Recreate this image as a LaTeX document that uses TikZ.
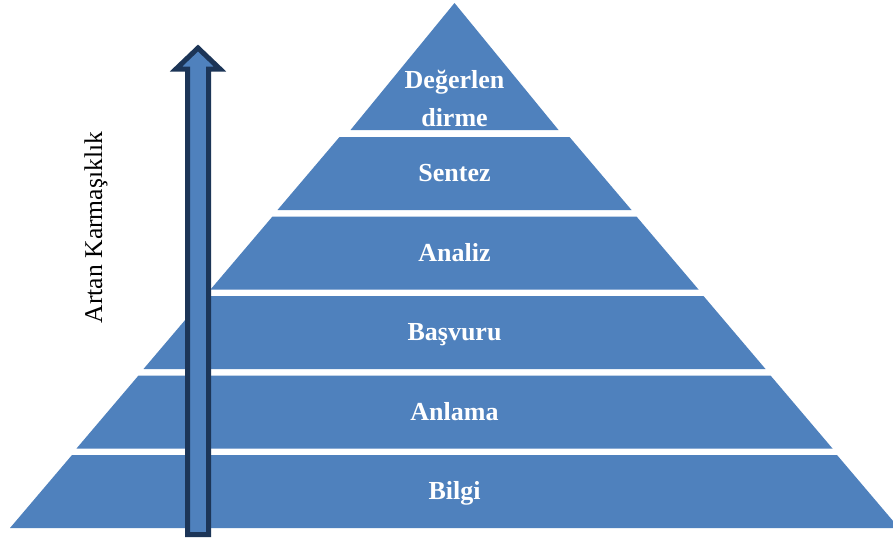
\documentclass[tikz,border=0pt]{standalone}
\usepackage{fontspec}
\setmainfont{Liberation Serif}
\definecolor{layerblue}{RGB}{79,129,189}
\definecolor{arrowedge}{RGB}{28,53,87}
\begin{document}
\begin{tikzpicture}[x=1pt,y=-1pt,
  layer/.style={fill=layerblue,draw=none},
  lbl/.style={text=white,font=\fontsize{26}{30}\selectfont\bfseries,anchor=base,inner sep=0pt},
  bigarrow/.style={fill=layerblue,draw=arrowedge,line width=5pt,line join=miter}]
\useasboundingbox[fill=white] (0,0) rectangle (893,541);
\def\cx{454.5}
% top triangle
\fill[layer] (\cx,3) -- (\cx+104,130) -- (\cx-104,130) -- cycle;
% trapezoid layers: top y, bottom y, top half-width, bottom half-width
\foreach \t/\b/\ht/\hb in {137/210/115/177, 216.5/289.5/182/244, 296/369/249/311,
                           375.5/448.5/316/378, 455/528/382.5/444.5}{
  \fill[layer] (\cx-\ht,\t) -- (\cx+\ht,\t) -- (\cx+\hb,\b) -- (\cx-\hb,\b) -- cycle;
}
% layer labels
\node[lbl] (t6a) at (\cx,88.3) {Değerlen};
\node[lbl] (t6b) at (\cx,126) {dirme};
\node[lbl] (t5) at (\cx,181.5) {Sentez};
\node[lbl] (t4) at (\cx,261) {Analiz};
\node[lbl] (t3) at (\cx,340.5) {Başvuru};
\node[lbl] (t2) at (\cx,420) {Anlama};
\node[lbl] (t1) at (\cx,499.5) {Bilgi};
% upward arrow
\draw[bigarrow] (187.5,534.5) -- (187.5,69) -- (176,69) -- (198,48) -- (220,69)
  -- (208.5,69) -- (208.5,534.5) -- cycle;
% axis caption
\node[rotate=90,anchor=base,inner sep=0pt,font=\fontsize{25.6}{30}\selectfont] (cap)
  at (102,227.5) {Artan Karmaşıklık};
\end{tikzpicture}
\end{document}
